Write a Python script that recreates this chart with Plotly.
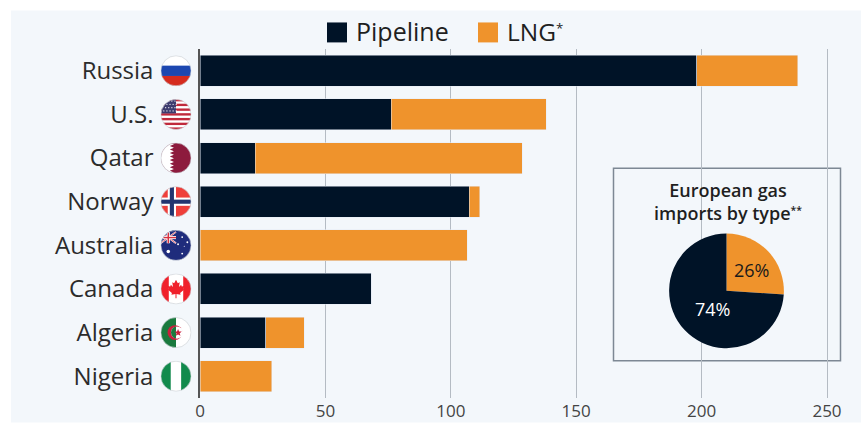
import base64
import plotly.graph_objects as go

countries = ["Russia", "U.S.", "Qatar", "Norway", "Australia", "Canada", "Algeria", "Nigeria"]
pipeline = [198, 76.2, 22, 107.3, 0, 68.2, 26.3, 0]
lng = [40.4, 61.8, 106.4, 4.3, 106.5, 0, 15.2, 28.7]
pie_labels = ["LNG", "Pipeline"]
pie_values = [26, 74]
x_ticks = [0, 50, 100, 150, 200, 250]

W, H = 861, 423
L, R, T, B = 200, 11, 48.6, 24.6
PW, PH = W - L - R, H - T - B
NAVY, ORANGE, PANEL = "#001327", "#ef932c", "#f3f7fb"
FONT = "Open Sans"


def fx(px):
    return (px - L) / PW


def fy(py):
    return 1 - (py - T) / PH


def svg_flag(body):
    s = ('<svg xmlns="http://www.w3.org/2000/svg" xmlns:xlink="http://www.w3.org/1999/xlink" width="120" height="120" viewBox="0 0 30 30">'
         '<defs><clipPath id="c"><circle cx="15" cy="15" r="14.6"/></clipPath></defs>'
         f'<g clip-path="url(#c)">{body}</g>'
         '<circle cx="15" cy="15" r="14.6" fill="none" stroke="#c9ced3" stroke-width="0.6"/></svg>')
    return "data:image/svg+xml;base64," + base64.b64encode(s.encode()).decode()


def r(x, y, w, h, c):
    return f'<rect x="{x}" y="{y}" width="{w}" height="{h}" fill="{c}"/>'


us = r(0, 0, 30, 30, "#fff")
for i in range(7):
    us += r(0, i * 4.6, 30, 2.3, "#c0293b")
us += r(0, 0, 15, 14, "#3c3b6e")
for row in range(4):
    for col in range(5):
        us += f'<circle cx="{2 + col * 3 + (row % 2) * 1.2}" cy="{2 + row * 3.2}" r="0.6" fill="#fff"/>'

qatar = r(0, 0, 30, 30, "#8d1b3d") + '<polygon fill="#fff" points="0,0 9,0 13,1.7 9,3.4 13,5.1 9,6.8 13,8.5 9,10.2 13,11.9 9,13.6 13,15.3 9,17 13,18.7 9,20.4 13,22.1 9,23.8 13,25.5 9,27.2 13,28.9 9,30 0,30"/>'
norway = (r(0, 0, 30, 30, "#ef3f3a") + r(7, 0, 8, 30, "#fff") + r(0, 11, 30, 8, "#fff")
          + r(9, 0, 4, 30, "#24356f") + r(0, 13, 30, 4, "#24356f"))
australia = (r(0, 0, 30, 30, "#1f2c7c") + r(0, 0, 15, 14, "#1f2c7c")
             + '<g stroke="#fff" stroke-width="1.6"><line x1="0" y1="2" x2="15" y2="13"/><line x1="15" y1="2" x2="0" y2="13"/></g>'
             + '<g stroke="#d8313f" stroke-width="0.7"><line x1="0" y1="2" x2="15" y2="13"/><line x1="15" y1="2" x2="0" y2="13"/></g>'
             + r(6, 2, 3, 11, "#fff") + r(0, 6, 15, 3, "#fff") + r(6.8, 2, 1.4, 11, "#d8313f") + r(0, 6.8, 15, 1.4, "#d8313f")
             + "".join(f'<circle cx="{a}" cy="{b}" r="{c}" fill="#fff"/>' for a, b, c in
                       [(7.5, 21, 1.7), (21, 7, 0.9), (21, 23, 0.9), (17, 14, 0.9), (26, 12, 0.9), (23, 16, 0.5)]))
canada = (r(0, 0, 30, 30, "#fff") + r(0, 0, 8, 30, "#f0202b") + r(22, 0, 8, 30, "#f0202b")
          + '<polygon fill="#f0202b" points="15,6 16.8,9.5 18.6,8.6 17.9,13 20,11 20.6,12.6 23,12.2 22.2,15 23,15.6 19,19 19.4,20.6 15.5,20 15.5,24 14.5,24 14.5,20 10.6,20.6 11,19 7,15.6 7.8,15 7,12.2 9.4,12.6 10,11 12.1,13 11.4,8.6 13.2,9.5"/>')
algeria = (r(0, 0, 15, 30, "#1a7a3e") + r(15, 0, 15, 30, "#fff")
           + '<circle cx="14" cy="15" r="7.2" fill="#c8203c"/><circle cx="16" cy="15" r="5.9" fill="#fff"/>'
           + '<clipPath id="g"><rect x="0" y="0" width="15" height="30"/></clipPath>'
           + '<circle cx="16" cy="15" r="5.9" fill="#1a7a3e" clip-path="url(#g)"/>'
           + '<polygon fill="#c8203c" points="17,11.6 18,14 20.6,14 18.6,15.7 19.3,18.2 17,16.8 14.8,18.2 15.5,15.7 13.5,14 16,14"/>')

flags = [
    svg_flag(r(0, 0, 30, 10, "#fff") + r(0, 10, 30, 10, "#1c47b0") + r(0, 20, 30, 10, "#d52b1e")),
    svg_flag(us), svg_flag(qatar), svg_flag(norway), svg_flag(australia), svg_flag(canada), svg_flag(algeria),
    svg_flag(r(0, 0, 10, 30, "#118a4c") + r(10, 0, 10, 30, "#fff") + r(20, 0, 10, 30, "#118a4c")),
]

fig = go.Figure()
fig.add_bar(name="Pipeline", y=countries, x=pipeline, orientation="h", marker_color=NAVY, hoverinfo="x+y")
fig.add_bar(name="LNG", y=countries, x=lng, orientation="h", marker_color=ORANGE, hoverinfo="x+y")
fig.add_pie(
    labels=pie_labels, values=pie_values, sort=False, direction="clockwise", rotation=0,
    marker=dict(colors=[ORANGE, NAVY], line=dict(width=0)),
    textinfo="none",
    domain=dict(x=[fx(669), fx(784)], y=[fy(348.5), fy(233.5)]),
    showlegend=False,
)

images = [
    dict(source=src, xref="paper", yref="paper", x=fx(176), y=fy(T + (i + 0.5) * PH / len(countries)),
         sizex=31 / PW, sizey=31 / PH, xanchor="center", yanchor="middle", sizing="contain", layer="above")
    for i, src in enumerate(flags)
]

shapes = [
    dict(type="rect", xref="paper", yref="paper", x0=fx(11), x1=fx(861), y0=fy(423), y1=fy(10),
         fillcolor=PANEL, line_width=0, layer="below"),
    dict(type="rect", xref="paper", yref="paper", x0=fx(613.5), x1=fx(840.5), y0=fy(361), y1=fy(168),
         fillcolor=PANEL, line=dict(color="#7d8894", width=1.5), layer="between"),
    dict(type="rect", xref="paper", yref="paper", x0=fx(327), x1=fx(347), y0=fy(42), y1=fy(22),
         fillcolor=NAVY, line_width=0, layer="above"),
    dict(type="rect", xref="paper", yref="paper", x0=fx(478), x1=fx(498), y0=fy(42), y1=fy(22),
         fillcolor=ORANGE, line_width=0, layer="above"),
]

annotations = [
    dict(text="Pipeline", xref="paper", yref="paper", x=fx(354), y=fy(31), xanchor="left", yanchor="middle",
         showarrow=False, font=dict(size=25, color="#1f1f1f", family=FONT)),
    dict(text="LNG<span style=\"font-size:19px\"><sup>*</sup></span>", xref="paper", yref="paper", x=fx(505), y=fy(31),
         xanchor="left", yanchor="middle", showarrow=False, font=dict(size=24.5, color="#1f1f1f", family=FONT)),
    dict(text="European gas<br>imports by type<span style=\"font-size:15px\"><sup>**</sup></span>", xref="paper", yref="paper",
         x=fx(727.5), y=fy(201.5), xanchor="center", yanchor="middle", showarrow=False, align="center",
         font=dict(size=18, color="#1f1f1f", family=FONT, weight=600)),
    dict(text=f"{pie_values[0]}%", xref="paper", yref="paper", x=fx(751), y=fy(270), xanchor="center", yanchor="middle",
         showarrow=False, font=dict(size=18, color="#1a1a1a", family=FONT)),
    dict(text=f"{pie_values[1]}%", xref="paper", yref="paper", x=fx(712), y=fy(309), xanchor="center", yanchor="middle",
         showarrow=False, font=dict(size=18, color="#ffffff", family=FONT)),
]

fig.update_layout(
    width=W, height=H, margin=dict(l=L, r=R, t=T, b=B, autoexpand=False),
    paper_bgcolor="#ffffff", plot_bgcolor="rgba(0,0,0,0)",
    barmode="stack", bargap=0.29, showlegend=False,
    font=dict(family=FONT, color="#333333"),
    images=images, shapes=shapes, annotations=annotations,
    xaxis=dict(range=[0, PW / 2.508], tickvals=x_ticks, showgrid=True, gridcolor="#b4bbc3", gridwidth=1,
               zeroline=False, showline=False, ticks="", tickfont=dict(size=17, color="#444444"),
               ticklabelstandoff=1),
    yaxis=dict(categoryorder="array", categoryarray=countries, range=[7.5, -0.5], showgrid=False, zeroline=False,
               showline=True, linecolor="#555555", linewidth=1.5, ticks="", ticklabelstandoff=40,
               tickfont=dict(size=24, color="#2b2b2b")),
)

fig.write_html("out.html", post_script="document.body.style.margin='0';", config={"displayModeBar": False})
